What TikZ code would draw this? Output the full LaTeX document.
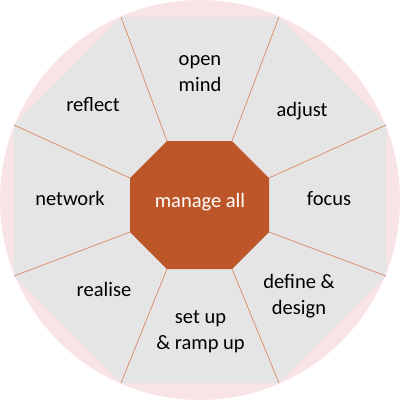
\documentclass[tikz,border=0pt]{standalone}
\usepackage{fontspec}
\setmainfont{Carlito}
\definecolor{pinkbg}{HTML}{F9E4E5}
\definecolor{greyfill}{HTML}{E5E5E5}
\definecolor{hub}{HTML}{BC5628}
\definecolor{spoke}{HTML}{D98A63}
\begin{document}
\begin{tikzpicture}[x=1pt,y=-1pt,
  lbl/.style={font=\fontsize{20.5}{26}\selectfont, text=black, align=center, inner sep=0pt, anchor=base},
  spokeline/.style={draw=spoke, line width=0.7pt}]
\useasboundingbox (0,0) rectangle (400,400);
\fill[pinkbg] (200,200) circle[radius=200];
% outer octagon vertices
\coordinate (o1) at (121,17);
\coordinate (o2) at (279,17);
\coordinate (o3) at (386,125);
\coordinate (o4) at (386,276);
\coordinate (o5) at (279,383);
\coordinate (o6) at (121,383);
\coordinate (o7) at (14,276);
\coordinate (o8) at (14,125);
\fill[greyfill] (o1)--(o2)--(o3)--(o4)--(o5)--(o6)--(o7)--(o8)--cycle;
% inner octagon vertices
\coordinate (i1) at (167,141);
\coordinate (i2) at (232,141);
\coordinate (i3) at (269,178);
\coordinate (i4) at (269,232);
\coordinate (i5) at (232,269);
\coordinate (i6) at (167,269);
\coordinate (i7) at (130,232);
\coordinate (i8) at (130,178);
\foreach \k in {1,...,8} {\draw[spokeline] (i\k) -- (o\k);}
\fill[hub] (i1)--(i2)--(i3)--(i4)--(i5)--(i6)--(i7)--(i8)--cycle;
\node[lbl, text=white] (hubtext) at (200,207) {manage all};
\node[lbl] (openmind) at (200,91.7) {open\\mind};
\node[lbl] (reflect) at (93,111.7) {reflect};
\node[lbl] (adjust) at (302,116) {adjust};
\node[lbl] (network) at (70,205) {network};
\node[lbl] (focus) at (329,205) {focus};
\node[lbl] (define) at (299,314.5) {define \&\\design};
\node[lbl] (setup) at (200.5,349) {set up\\\& ramp up};
\node[lbl] (realise) at (104,296.7) {realise};
\end{tikzpicture}
\end{document}
